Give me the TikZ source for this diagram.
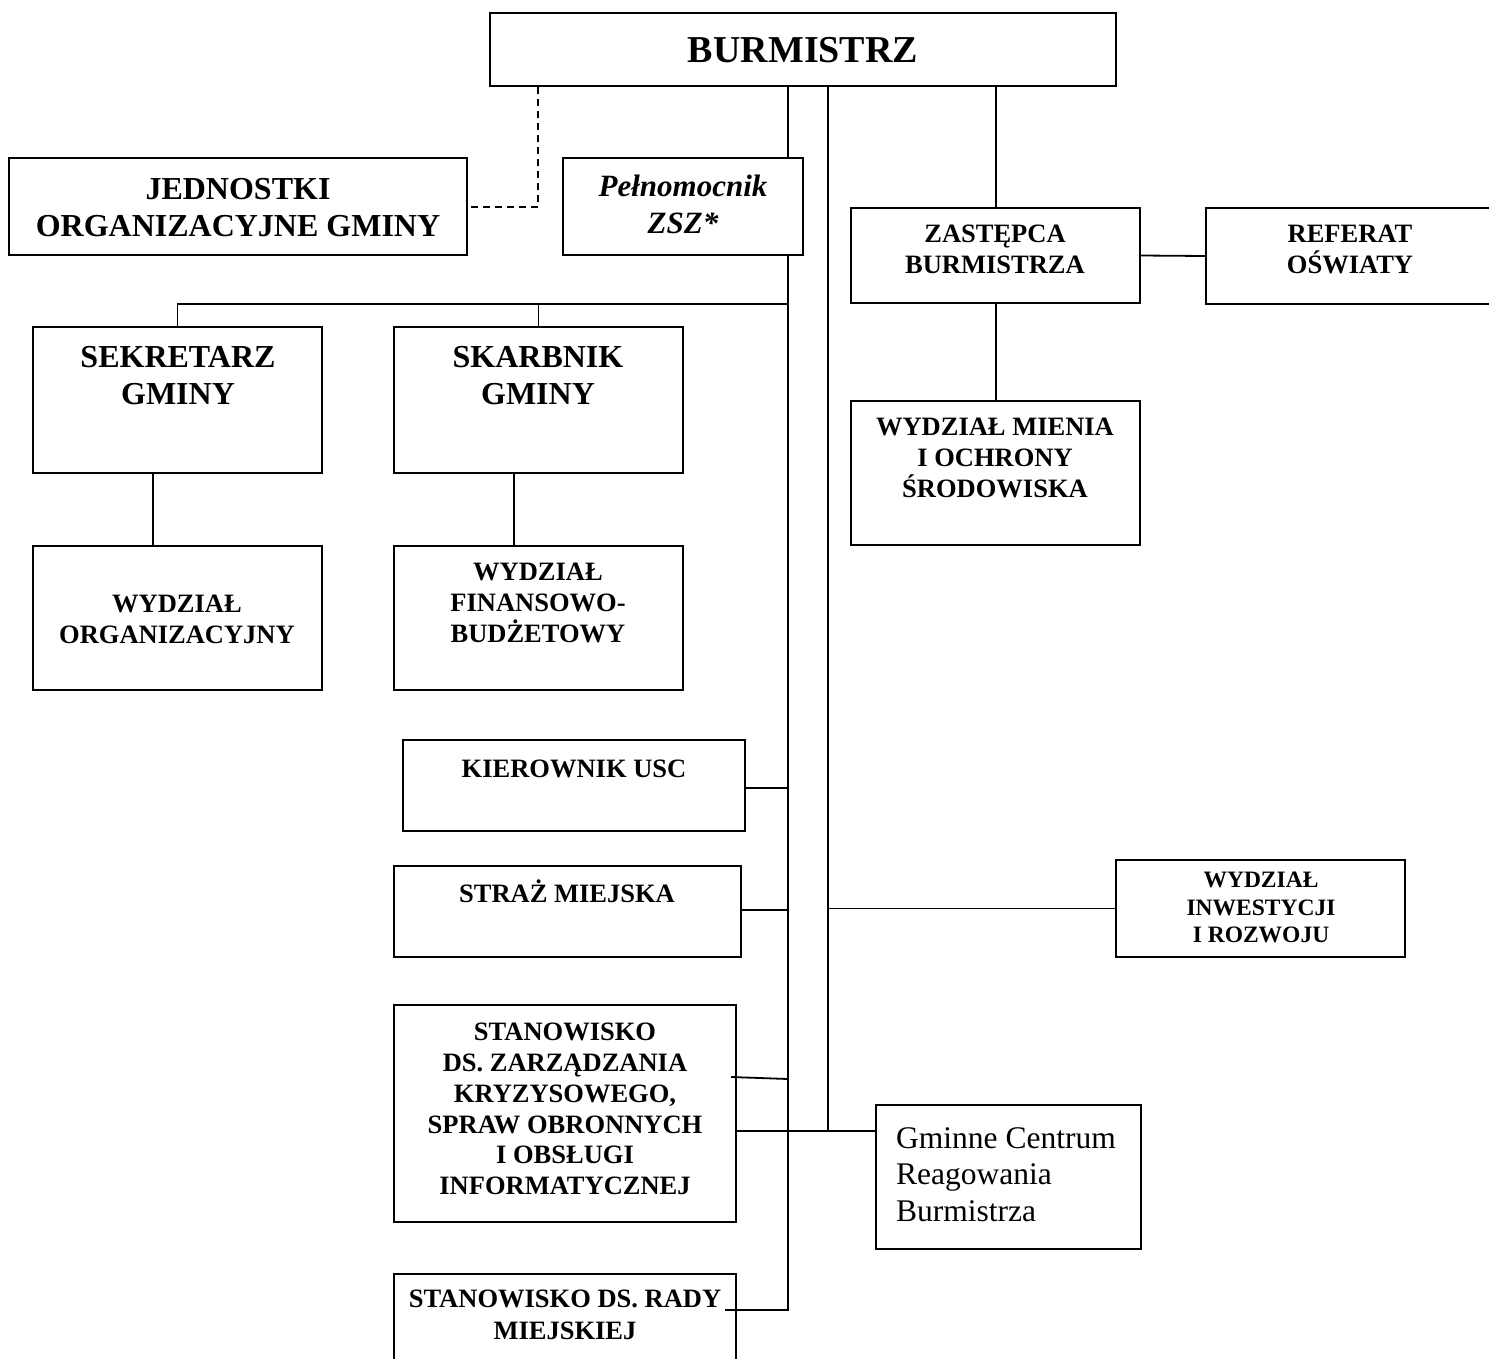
\documentclass[tikz,border=0pt]{standalone}
\usepackage{fontspec}
\setmainfont{Liberation Serif}
\begin{document}
\begin{tikzpicture}[x=1pt,y=-1pt,
  boxn/.style={draw, line width=2.2pt, inner sep=0pt},
  ln/.style={line width=1.8pt},
  big/.style={font={\fontsize{32}{37}\selectfont\bfseries}, align=center, inner sep=0pt},
  mid/.style={font={\fontsize{26.5}{31}\selectfont\bfseries}, align=center, inner sep=0pt},
  sml/.style={font={\fontsize{23.5}{27.5}\selectfont\bfseries}, align=center, inner sep=0pt}]
\useasboundingbox (0,0) rectangle (1489,1358);
\clip (0,0) rectangle (1489,1358);
% boxes
\node[boxn, minimum width=626pt, minimum height=73pt] (burm) at (803,49.5) {};
\node[boxn, minimum width=458pt, minimum height=97pt] (jedn) at (238,206.5) {};
\node[boxn, minimum width=240pt, minimum height=97pt] (peln) at (683,206.5) {};
\node[boxn, minimum width=289pt, minimum height=95pt] (zast) at (995.5,255.5) {};
\node[boxn, minimum width=304pt, minimum height=96pt] (ref) at (1358,256) {};
\node[boxn, minimum width=289pt, minimum height=146pt] (sekr) at (177.5,400) {};
\node[boxn, minimum width=289pt, minimum height=146pt] (skarb) at (538.5,400) {};
\node[boxn, minimum width=289pt, minimum height=144pt] (mien) at (995.5,473) {};
\node[boxn, minimum width=289pt, minimum height=144pt] (worg) at (177.5,618) {};
\node[boxn, minimum width=289pt, minimum height=144pt] (wfin) at (538.5,618) {};
\node[boxn, minimum width=342pt, minimum height=91pt] (usc) at (574,785.5) {};
\node[boxn, minimum width=347pt, minimum height=91pt] (straz) at (567.5,911.5) {};
\node[boxn, minimum width=289pt, minimum height=97pt] (winw) at (1260.5,908.5) {};
\node[boxn, minimum width=342pt, minimum height=217pt] (stzk) at (565,1113.5) {};
\node[boxn, minimum width=265pt, minimum height=144pt] (gcr) at (1008.5,1177) {};
\node[boxn, minimum width=342pt, minimum height=126pt] (srm) at (565,1337) {};
% texts
\node[inner sep=0pt, anchor=base, font={\fontsize{38}{44}\selectfont\bfseries}] (tburm) at (803,62) {BURMISTRZ};
\node[big, anchor=north] (tjedn) at (238,178) {JEDNOSTKI\\ORGANIZACYJNE GMINY};
\node[big, anchor=north, font={\fontsize{31}{37}\selectfont\bfseries\itshape}] (tpeln) at (683,175) {Pełnomocnik\\ZSZ*};
\node[mid, anchor=north] (tzast) at (995,225) {ZASTĘPCA\\BURMISTRZA};
\node[mid, anchor=north] (tref) at (1350,225) {REFERAT\\OŚWIATY};
\node[big, anchor=north] (tsekr) at (178,346) {SEKRETARZ\\GMINY};
\node[big, anchor=north] (tskarb) at (538,346) {SKARBNIK\\GMINY};
\node[mid, anchor=north] (tmien) at (995,418) {WYDZIAŁ MIENIA\\I OCHRONY\\ŚRODOWISKA};
\node[mid, anchor=north] (tworg) at (177,595) {WYDZIAŁ\\ORGANIZACYJNY};
\node[mid, anchor=north] (twfin) at (538,563) {WYDZIAŁ\\FINANSOWO-\\BUDŻETOWY};
\node[mid, anchor=base] (tusc) at (574,777) {KIEROWNIK USC};
\node[mid, anchor=base] (tstraz) at (567,902) {STRAŻ MIEJSKA};
\node[sml, anchor=north] (twinw) at (1261,872) {WYDZIAŁ\\INWESTYCJI\\I ROZWOJU};
\node[font={\fontsize{26.5}{30.8}\selectfont\bfseries}, align=center, inner sep=0pt, anchor=north] (tstzk) at (565,1023) {STANOWISKO\\DS. ZARZĄDZANIA\\KRYZYSOWEGO,\\SPRAW OBRONNYCH\\I OBSŁUGI\\INFORMATYCZNEJ};
\node[font={\fontsize{26.5}{32}\selectfont\bfseries}, align=center, inner sep=0pt, anchor=north] (tsrm) at (565,1290) {STANOWISKO DS. RADY\\MIEJSKIEJ};
\node[font={\fontsize{31.5}{36.7}\selectfont}, align=left, inner sep=0pt, anchor=north west] (tgcr) at (896,1127) {Gminne Centrum\\Reagowania\\Burmistrza};
% helper coordinates
\coordinate (tA) at (788,0);
\coordinate (tB) at (828,0);
\coordinate (tC) at (996,0);
\coordinate (tD) at (538,0);
\coordinate (hbar) at (0,304);
\coordinate (xs1) at (153,0);
\coordinate (xs2) at (514,0);
\coordinate (yU) at (0,788);
\coordinate (yS) at (0,910);
\coordinate (yK1) at (0,1077);
\coordinate (yK1b) at (0,1079);
\coordinate (yK2) at (0,1131);
\coordinate (yR) at (0,1310);
\coordinate (yJ) at (0,207);
\coordinate (xK1) at (731,0);
\coordinate (xR) at (725,0);
% connectors
\draw[ln] (burm.south -| tA) -- (peln.north -| tA);
\draw[ln] (peln.south -| tA) -- (tA |- yR) -- (xR |- yR);
\draw[ln] (hbar -| tA) -- (hbar -| sekr.north) -- (sekr.north);
\draw[ln] (hbar -| skarb.north) -- (skarb.north);
\draw[ln] (sekr.south -| xs1) -- (worg.north -| xs1);
\draw[ln] (skarb.south -| xs2) -- (wfin.north -| xs2);
\draw[ln] (burm.south -| tB) -- (tB |- yK2);
\draw[ln] (stzk.east |- yK2) -- (gcr.west |- yK2);
\draw[ln] (burm.south -| tC) -- (zast.north -| tC);
\draw[ln] (zast.south -| tC) -- (mien.north -| tC);
\draw[ln] (zast.east) -- (ref.west);
\draw[ln] (usc.east |- yU) -- (tA |- yU);
\draw[ln] (straz.east |- yS) -- (tA |- yS);
\draw[ln] (tB |- winw.west) -- (winw.west);
\draw[ln] (xK1 |- yK1) -- (tA |- yK1b);
\draw[ln, dash pattern=on 7pt off 5pt] (burm.south -| tD) -- (tD |- yJ) -- (jedn.east |- yJ);
\end{tikzpicture}
\end{document}
